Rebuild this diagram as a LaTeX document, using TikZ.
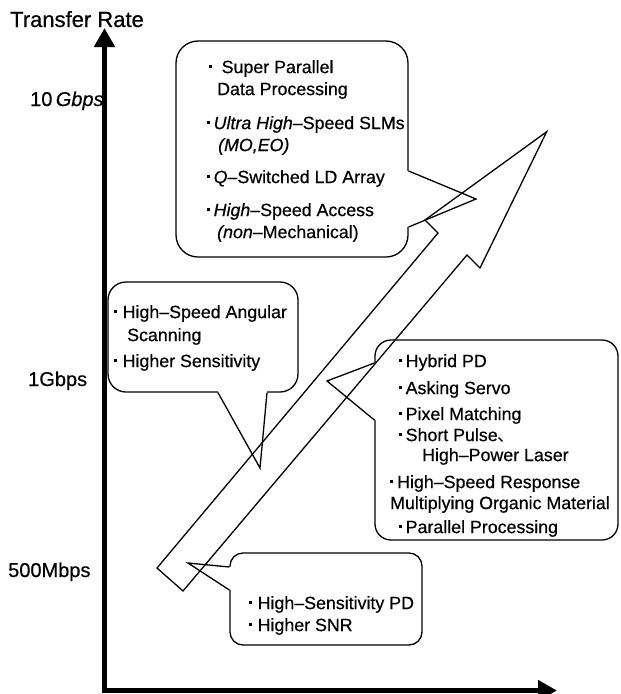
\documentclass[tikz,border=0pt]{standalone}
\usepackage{fontspec}
\setmainfont{Liberation Sans}[FakeBold=0.5]
\newfontfamily\cjk{Noto Sans CJK JP}
\usetikzlibrary{arrows.meta,calc}
\newcommand{\sqdot}{\makebox[7pt][l]{\raisebox{0.28em}{\rule{3pt}{3pt}}}}

\begin{document}
\begin{tikzpicture}[x=1pt,y=-1pt,
  line/.style={line width=1.3pt, line join=miter},
  box/.style={draw, line width=1.3pt, inner sep=0pt, rounded corners=#1},
  box/.default=18pt,
  txt/.style={anchor=north west, inner sep=0pt, align=left, font=\fontsize{17.8}{22}\selectfont},
  lab/.style={anchor=base west, inner sep=0pt, font=\fontsize{20}{24}\selectfont},
  axisline/.style={line width=5pt, line join=miter,
    {Triangle[length=19pt,width=20pt]}-{Triangle[length=19pt,width=20pt]}}]
\useasboundingbox (0,0) rectangle (621,694);

% callout boxes
\node[box=22pt, minimum width=232pt, minimum height=216pt] (procbox) at (292,149) {};
\node[box, minimum width=190pt, minimum height=110pt] (scanbox) at (203,337) {};
\node[box=16pt, minimum width=243pt, minimum height=200pt] (hybridbox) at (496.5,440) {};
\node[box=13pt, minimum width=192pt, minimum height=92pt] (snrbox) at (326,599) {};

% tails
\coordinate (proctip) at (476,199);
\coordinate (scantip) at (260,468);
\coordinate (hybridtip) at (327,381);
\coordinate (snrtip) at (188,563);
\fill[white] ($(procbox.east)+(-1.5,22)$) -- (proctip) -- ($(procbox.east)+(-1.5,78)$) -- cycle;
\draw[line] ($(procbox.east)+(0,22)$) -- (proctip) -- ($(procbox.east)+(0,78)$);
\fill[white] ($(scanbox.south)+(15,-1.5)$) -- (scantip) -- ($(scanbox.south)+(64,-1.5)$) -- cycle;
\draw[line] ($(scanbox.south)+(15,0)$) -- (scantip) -- ($(scanbox.south)+(64,0)$);
\fill[white] ($(hybridbox.west)+(1.5,-77)$) -- (hybridtip) -- ($(hybridbox.west)+(1.5,-20)$) -- cycle;
\draw[line] ($(hybridbox.west)+(0,-77)$) -- (hybridtip) -- ($(hybridbox.west)+(0,-20)$);
\fill[white] ($(snrbox.west)+(1.5,-32)$) -- (snrtip) -- ($(snrbox.west)+(1.5,-9)$) -- cycle;
\draw[line] ($(snrbox.west)+(0,-32)$) -- (snrtip) -- ($(snrbox.west)+(0,-9)$);

% texts
\node[txt] (proctext) at (206.5,60) {\hspace*{2pt}\sqdot\hspace{6pt}Super Parallel\\
  \hspace*{10.5pt}Data Processing\\[12pt]
  \sqdot\textit{Ultra High}--Speed SLMs\\
  \hspace*{11.5pt}\textit{(MO,EO)}\\[10pt]
  \sqdot\textit{Q}--Switched LD Array\\[11pt]
  \sqdot\textit{High}--Speed Access\\
  \hspace*{10.5pt}\textit{(non}--Mechanical)};
\node[txt] (scantext) at (113.5,305) {\sqdot\hspace{2pt}High--Speed Angular\\[1pt]
  \hspace*{13.5pt}Scanning\\[4pt]
  \sqdot\hspace{2pt}Higher Sensitivity};
\node[txt] (hybridtext) at (390,354) {\hspace*{8.5pt}\sqdot Hybrid PD\\[5pt]
  \hspace*{8.5pt}\sqdot Asking Servo\\[4pt]
  \hspace*{8.5pt}\sqdot Pixel Matching\\[-1pt]
  \hspace*{8.5pt}\sqdot Short Pulse{\cjk 、}\\[-2pt]
  \hspace*{32pt}High--Power Laser\\[5pt]
  \sqdot High--Speed Response\\[-1pt]
  Multiplying Organic Material\\[2pt]
  \hspace*{8.5pt}\sqdot Parallel Processing};
\node[txt] (snrtext) at (248.5,596) {\sqdot\hspace{2pt}High--Sensitivity PD\\
  \sqdot\hspace{2pt}Higher SNR};

% rate labels
\node[lab, font=\fontsize{22}{24}\selectfont] (title) at (10,27) {Transfer Rate};
\node[lab] (tenG) at (30,106) {10\,\textit{Gbps}};
\node[lab] (oneG) at (28,386) {1Gbps};
\node[lab] (fiveM) at (8,577) {500Mbps};

% hollow trend arrow
\draw[line] (157,568) -- (438,233) -- (425,220) -- (546.7,131.7) -- (480,268)
  -- (467,255) -- (183,591) -- cycle;

% axes
\coordinate (ytip) at (104.5,28);
\coordinate (xtip) at (557,690.5);
\draw[axisline] (ytip) |- (xtip);
\end{tikzpicture}
\end{document}
